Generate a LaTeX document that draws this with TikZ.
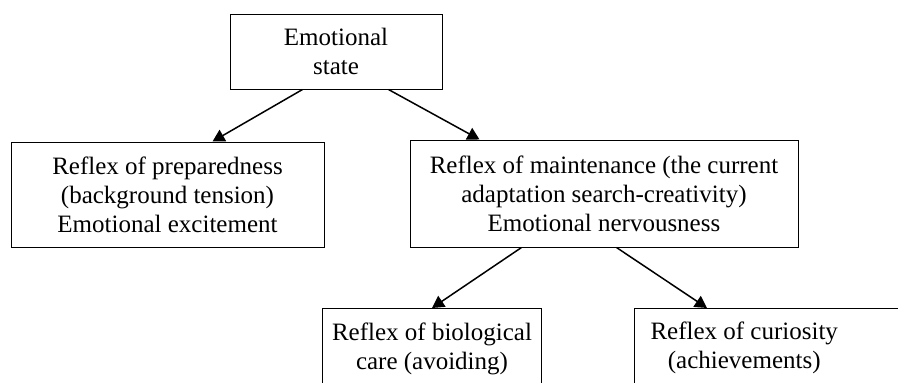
\documentclass[tikz,border=0pt]{standalone}
\usepackage{fontspec}
\setmainfont{Liberation Serif}
\usepackage{tikz}
\usetikzlibrary{arrows.meta,positioning}

\tikzset{
  reflexbox/.style={draw, line width=1pt, align=center, inner sep=0pt,
    font=\fontsize{25}{29}\selectfont},
  reflexarrow/.style={line width=1.5pt, -{Triangle[width=13pt,length=12pt]}}
}

\begin{document}
\begin{tikzpicture}[x=1pt,y=-1pt]
  %frame
  \path[use as bounding box, fill=white] (0,0) rectangle (898,383);
  \clip (0,0) rectangle (898,383);
  %boxes
  \node[reflexbox, minimum width=212pt, minimum height=75pt] (emo) at (336,51.5)
    {Emotional\\state};
  \node[reflexbox, minimum width=313pt, minimum height=105pt] (prep) at (167.5,194.5)
    {Reflex of preparedness\\(background tension)\\Emotional excitement};
  \node[reflexbox, minimum width=388pt, minimum height=107pt] (maint) at (604,193.5)
    {Reflex of maintenance (the current\\adaptation search-creativity)\\Emotional nervousness};
  \node[reflexbox, anchor=north west, minimum width=219pt, minimum height=80pt] (bio) at (322,308)
    {Reflex of biological\\care (avoiding)};
  \node[reflexbox, anchor=north west, minimum height=80pt, inner xsep=16pt] (curio) at (634,308)
    {\begin{tabular}{@{}c@{}}Reflex of curiosity\\(achievements)\end{tabular}\hspace{120pt}};
  %arrows
  \draw[reflexarrow] ([xshift=73pt]emo.south west) -- ([xshift=202pt]prep.north west);
  \draw[reflexarrow] ([xshift=159pt]emo.south west) -- ([xshift=70pt]maint.north west);
  \draw[reflexarrow] ([xshift=112pt]maint.south west) -- ([xshift=110pt]bio.north west);
  \draw[reflexarrow] ([xshift=207pt]maint.south west) -- ([xshift=73pt]curio.north west);
\end{tikzpicture}
\end{document}
